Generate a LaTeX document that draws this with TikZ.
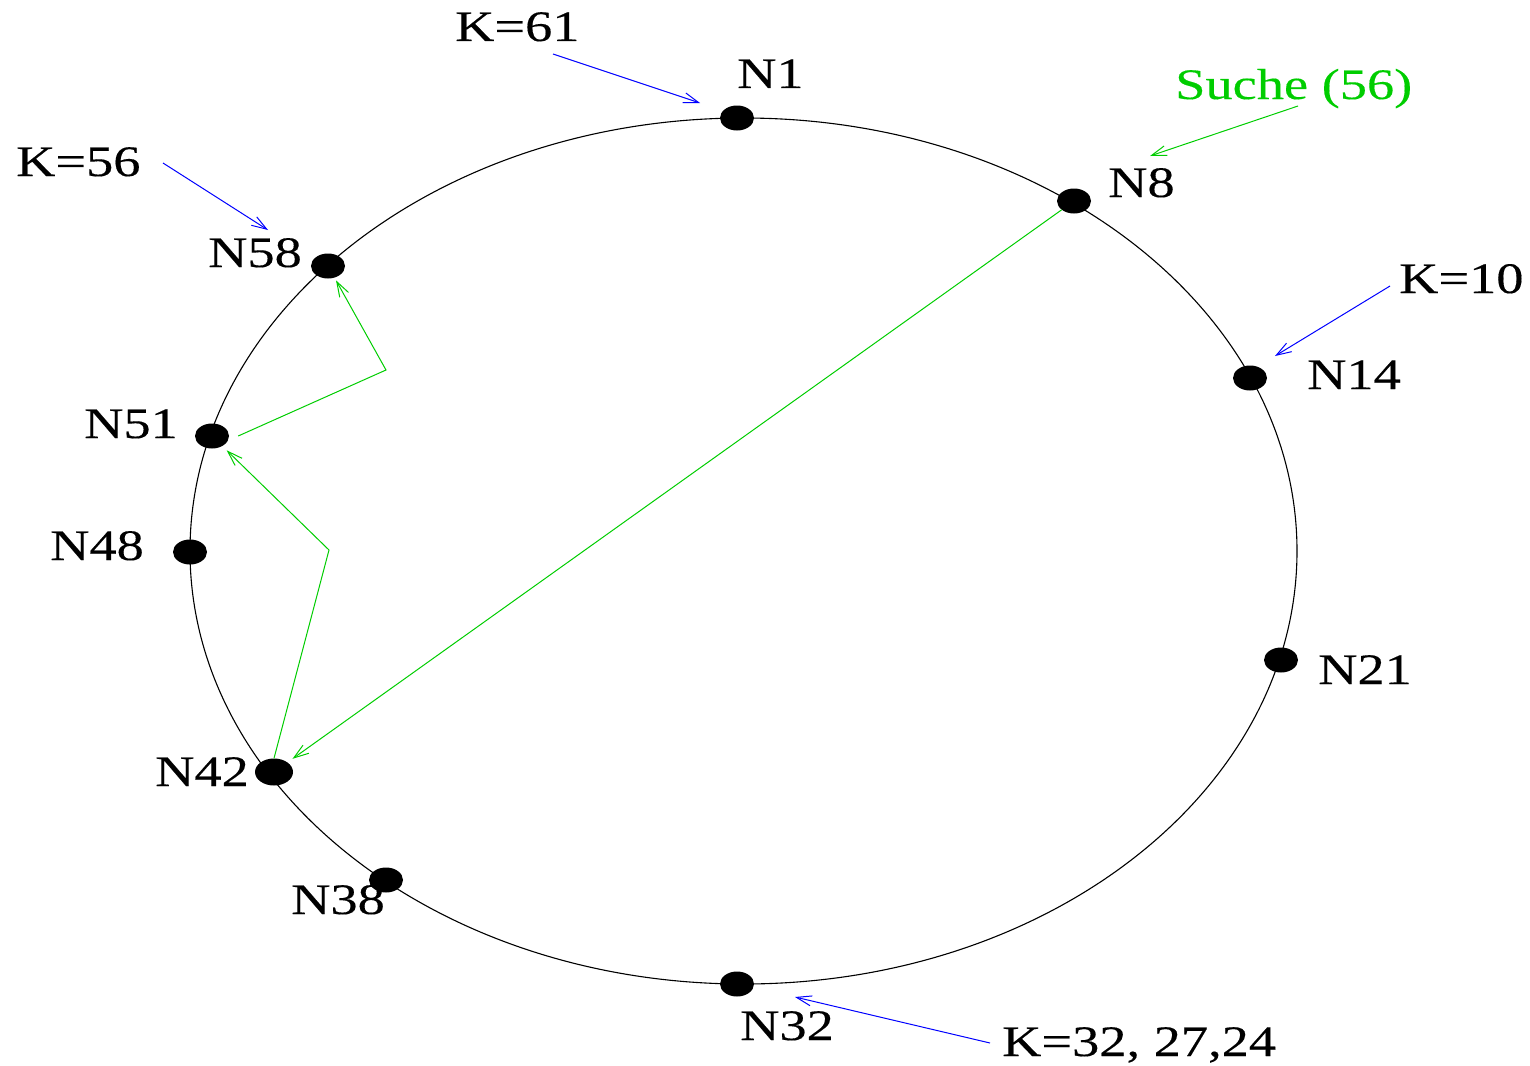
\documentclass[tikz,border=0pt]{standalone}
\usepackage{fontspec}
\setmainfont{Liberation Serif}
\newfontfamily\labfont[FakeStretch=1.25,FakeBold=0.3]{Liberation Serif}
\usetikzlibrary{shapes.geometric,arrows.meta}
\definecolor{mygreen}{RGB}{0,205,0}
\tikzset{
  dot/.style={ellipse,fill=black,draw=none,minimum width=34pt,minimum height=25pt,inner sep=0pt},
  lab/.style={anchor=base west,inner sep=0pt,font=\labfont\fontsize{43.5}{43.5}\selectfont},
  tip/.style={-{Straight Barb[length=15pt,width=10pt,line width=1pt]}},
  bluearrow/.style={tip,draw=blue,line width=1pt},
  greenarrow/.style={tip,draw=mygreen,line width=1pt},
}
\begin{document}
\begin{tikzpicture}[x=1pt,y=-1pt]
\useasboundingbox (0,0) rectangle (1530,1065);
% ring
\draw[line width=1.1pt] (743.5,551) ellipse [x radius=553.5pt, y radius=433pt];
% nodes
\node[dot] (n1)  at (737,118) {};
\node[dot] (n8)  at (1074,201) {};
\node[dot] (n14) at (1250,378) {};
\node[dot] (n21) at (1281,660) {};
\node[dot] (n32) at (737,984) {};
\node[dot] (n38) at (386,880) {};
\node[dot,minimum width=38pt,minimum height=27pt] (n42) at (274,772) {};
\node[dot] (n48) at (190,552) {};
\node[dot] (n51) at (212,436) {};
\node[dot] (n58) at (328,266) {};
% labels
\node[lab] (l1)  at (737,88) {N1};
\node[lab] (l8)  at (1108,197) {N8};
\node[lab] (l14) at (1307,389) {N14};
\node[lab] (l21) at (1318,684) {N21};
\node[lab] (l32) at (740,1040) {N32};
\node[lab] (l38) at (291,914) {N38};
\node[lab] (l42) at (155,786) {N42};
\node[lab] (l48) at (50,560) {N48};
\node[lab] (l51) at (84,438) {N51};
\node[lab] (l58) at (208,267) {N58};
\node[lab] (k61) at (455,41) {K=61};
\node[lab] (k56) at (16,176) {K=56};
\node[lab] (k10) at (1399,293) {K=10};
\node[lab] (k32) at (1002,1056) {K=32, 27,24};
\node[lab,text=mygreen] (suche) at (1175,99) {Suche (56)};
% blue key arrows
\coordinate (a61s) at (553,54);  \coordinate (a61e) at (700,103);
\coordinate (a56s) at (163,163); \coordinate (a56e) at (268,230);
\coordinate (a10s) at (1390,286); \coordinate (a10e) at (1275,356);
\coordinate (a32s) at (990,1043); \coordinate (a32e) at (795,997);
\draw[bluearrow] (a61s) -- (a61e);
\draw[bluearrow] (a56s) -- (a56e);
\draw[bluearrow] (a10s) -- (a10e);
\draw[bluearrow] (a32s) -- (a32e);
% search
\coordinate (ss) at (1298,106); \coordinate (se) at (1150,156);
\draw[greenarrow] (ss) -- (se);
\coordinate (b1) at (329,550);
\coordinate (b2) at (386,370);
\draw[greenarrow,shorten >=6pt] (n8) -- (n42);
\draw[greenarrow,shorten >=6pt] (n42.north) -- (b1) -- (n51);
\draw[greenarrow,shorten >=3pt] ([xshift=9pt]n51.east) -- (b2) -- (n58);
\end{tikzpicture}
\end{document}
